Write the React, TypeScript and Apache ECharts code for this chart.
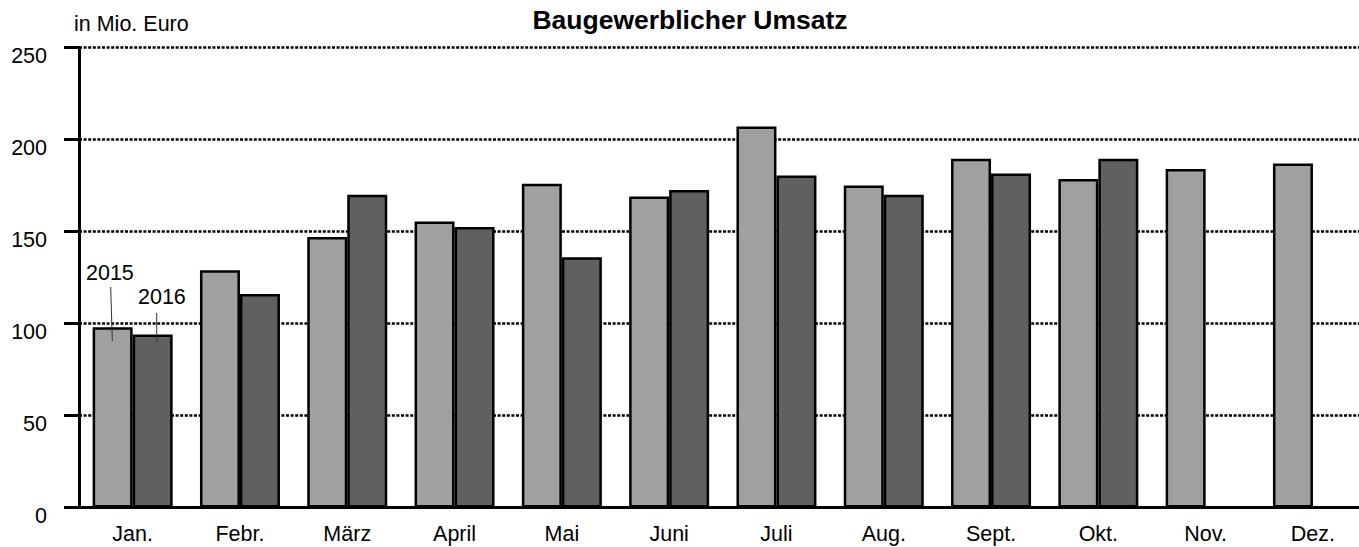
import React, { useEffect, useRef } from "react";
import * as echarts from "echarts";

const categories = ["Jan.", "Febr.", "März", "April", "Mai", "Juni", "Juli", "Aug.", "Sept.", "Okt.", "Nov.", "Dez."];
const values2015 = [98, 129, 147, 155.5, 176, 169, 207, 175, 189.5, 178.5, 184, 187];
const values2016: (number | null)[] = [94, 116, 170, 152.5, 136, 172.5, 180.5, 170, 181.5, 189.5, null, null];
const yTicks = [0, 50, 100, 150, 200, 250];

const FONT = "'Liberation Sans', Arial, sans-serif";

export default function App() {
  const ref = useRef<HTMLDivElement>(null);
  useEffect(() => {
    if (!ref.current) return;
    const chart = echarts.init(ref.current, undefined, { renderer: "svg" });
    chart.setOption({
      animation: false,
      backgroundColor: "#ffffff",
      textStyle: { fontFamily: FONT },
      title: {
        text: "Baugewerblicher Umsatz",
        left: 685,
        top: 1,
        textAlign: "center",
        textStyle: { fontFamily: FONT, fontSize: 26.5, fontWeight: "bold", color: "#000" },
      },
      grid: { left: 79, right: 13.4, top: 47.5, bottom: 39.5, containLabel: false },
      xAxis: {
        type: "category",
        data: categories,
        axisLine: { show: true, lineStyle: { color: "#000", width: 3 } },
        axisTick: { show: false },
        axisLabel: { margin: 15, fontFamily: FONT, fontSize: 21.5, color: "#000" },
        splitLine: { show: false },
      },
      yAxis: {
        type: "value",
        min: yTicks[0],
        max: yTicks[yTicks.length - 1],
        interval: 50,
        axisLine: { show: true, lineStyle: { color: "#000", width: 3 } },
        axisTick: { show: true, length: 15, lineStyle: { color: "#000", width: 3 } },
        axisLabel: {
          margin: 32,
          fontFamily: FONT,
          fontSize: 21.5,
          color: "#000",
          verticalAlign: "top",
          lineHeight: 17,
        },
        splitLine: { show: true, lineStyle: { color: "#000", width: 2.5, type: [3, 1.6] } },
      },
      series: [
        {
          name: "2015",
          type: "bar",
          data: values2015,
          barWidth: 40,
          barGap: "0%",
          itemStyle: { color: "#a0a0a0", borderColor: "#000", borderWidth: 2.5 },
        },
        {
          name: "2016",
          type: "bar",
          data: values2016,
          barWidth: 40,
          barGap: "0%",
          itemStyle: { color: "#606060", borderColor: "#000", borderWidth: 2.5 },
        },
      ],
      graphic: [
        {
          type: "text",
          left: 74,
          top: 13,
          style: { text: "in Mio. Euro", fontFamily: FONT, fontSize: 21.5, fill: "#000" },
        },
        {
          type: "text",
          x: 86,
          y: 273,
          style: { text: "2015", fontFamily: FONT, fontSize: 21.5, fill: "#000", verticalAlign: "middle" },
          z: 100,
        },
        {
          type: "text",
          x: 138,
          y: 297,
          style: { text: "2016", fontFamily: FONT, fontSize: 21.5, fill: "#000", verticalAlign: "middle" },
          z: 100,
        },
        {
          type: "line",
          shape: { x1: 110.7, y1: 287, x2: 112.3, y2: 341 },
          style: { stroke: "#333", lineWidth: 1 },
          z: 100,
        },
        {
          type: "line",
          shape: { x1: 156.7, y1: 313, x2: 156.7, y2: 342 },
          style: { stroke: "#333", lineWidth: 1 },
          z: 100,
        },
      ],
    });
    return () => chart.dispose();
  }, []);
  return (
    <div style={{ position: "fixed", left: 0, top: 0, width: 1359, height: 547, overflow: "hidden", background: "#fff" }}>
      <div ref={ref} style={{ width: 1380, height: 547 }} />
    </div>
  );
}
